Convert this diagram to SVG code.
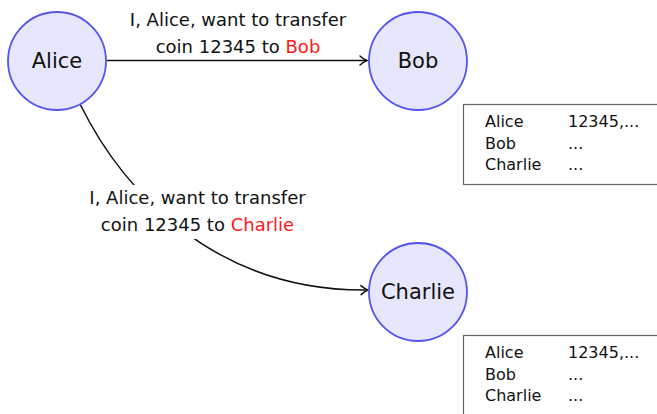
<svg xmlns="http://www.w3.org/2000/svg" width="657" height="414" viewBox="0 0 657 414">
<style>
.node{fill:#e6e6fc;stroke:#5555ee;stroke-width:1.8}
.nl{font-family:"DejaVu Sans",sans-serif;font-size:21px;fill:#111;text-anchor:middle}
.el{font-family:"DejaVu Sans",sans-serif;font-size:18px;fill:#111;text-anchor:middle}
.red{fill:#ff1a1a}
.edge{fill:none;stroke:#111;stroke-width:1.5}
.tbl{fill:#fff;stroke:#666;stroke-width:1.2}
.tt{font-family:"DejaVu Sans",sans-serif;font-size:16px;fill:#111}
</style>
<defs>
<marker id="arr" markerWidth="14" markerHeight="14" refX="11" refY="7" orient="auto" markerUnits="userSpaceOnUse">
<path d="M4,2.5 Q8,6 11,7 Q8,8 4,11.5" fill="none" stroke="#111" stroke-width="1.5" stroke-linecap="round"/>
</marker>
</defs>
<rect width="657" height="414" fill="#fff"/>
<g id="connectors">
<path class="edge" d="M107,60.5 L367,60.5" marker-end="url(#arr)"/>
<text class="el" x="238" y="26">I, Alice, want to transfer</text>
<text class="el" x="238" y="53">coin 12345 to <tspan class="red">Bob</tspan></text>
<path class="edge" d="M80,104 C120,185 210,292 368,290" marker-end="url(#arr)"/>
<rect x="86" y="185" width="224" height="54" fill="#fff"/>
<text class="el" x="197.5" y="204">I, Alice, want to transfer</text>
<text class="el" x="197.5" y="231">coin 12345 to <tspan class="red">Charlie</tspan></text>
</g>
<g id="alice">
<circle class="node" cx="57" cy="61" r="49"/>
<text class="nl" x="57" y="68">Alice</text>
</g>
<g id="bob">
<circle class="node" cx="418" cy="61" r="49"/>
<text class="nl" x="418" y="68">Bob</text>
</g>
<g id="charlie">
<circle class="node" cx="418" cy="292" r="49"/>
<text class="nl" x="418" y="299">Charlie</text>
</g>
<g id="ledger-bob">
<rect class="tbl" x="463.5" y="104.5" width="200" height="80"/>
<text class="tt" x="485" y="127">Alice</text><text class="tt" x="568" y="127">12345,...</text>
<text class="tt" x="485" y="149">Bob</text><text class="tt" x="568" y="149">...</text>
<text class="tt" x="485" y="170">Charlie</text><text class="tt" x="568" y="170">...</text>
</g>
<g id="ledger-charlie">
<rect class="tbl" x="463.5" y="335.5" width="200" height="90"/>
<text class="tt" x="485" y="358">Alice</text><text class="tt" x="568" y="358">12345,...</text>
<text class="tt" x="485" y="380">Bob</text><text class="tt" x="568" y="380">...</text>
<text class="tt" x="485" y="401">Charlie</text><text class="tt" x="568" y="401">...</text>
</g>
</svg>
